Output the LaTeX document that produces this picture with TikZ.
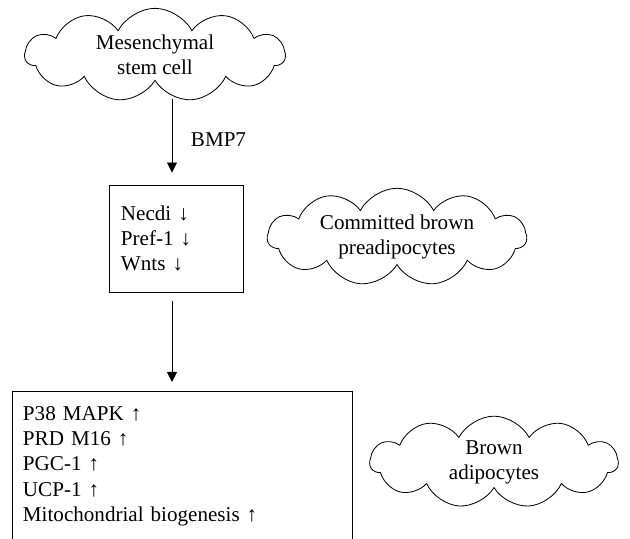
\documentclass[tikz,border=0pt]{standalone}
\usepackage{fontspec}
\setmainfont{Liberation Serif}
\usetikzlibrary{shapes.symbols,arrows.meta}

\begin{document}
\begin{tikzpicture}[x=0.03cm, y=-0.03cm,
    font=\fontsize{18}{21.5}\selectfont,
    stage/.style ={cloud, draw, line width=0.7pt, cloud puffs=11, cloud puff arc=125,
      cloud ignores aspect, align=center, inner sep=0pt},
    marker/.style ={rectangle, draw, line width=0.8pt, align=left, inner xsep=0.35cm},
    flow/.style ={line width=0.8pt, -{Triangle[length=0.3cm,width=0.3cm]}}]
   \useasboundingbox (0,0) rectangle (630,539);
   \coordinate (axis) at (172,0);
   \node[stage, minimum width=7.8cm, minimum height=2.8cm] (msc) at (155,55) {Mesenchymal\\stem cell};
   \node[stage, minimum width=7.77cm, minimum height=2.9cm] (cbp) at (397,237) {Committed brown\\preadipocytes};
   \node[stage, minimum width=7.44cm, minimum height=2.75cm] (bat) at (494,462) {Brown\\adipocytes};
   \node[marker, text width=3.33cm, minimum height=3.21cm] (early) at (176.5,238.5) {Necdi ↓\\Pref-1 ↓\\Wnts ↓};
   \node[marker, anchor=north, text width=9.54cm, inner xsep=0.33cm, inner ysep=0.45cm] (late) at (182,391)
     {P38 MAPK ↑\\PRD M16 ↑\\PGC-1 ↑\\UCP-1 ↑\\Mitochondrial biogenesis ↑\par\vspace*{3cm}};
   \node (bmp) at (218.5,140) {BMP7};
   \draw[flow, shorten <=0.55cm, shorten >=0.36cm] (msc.south -| axis) to (early.north -| axis);
   \draw[flow, shorten <=0.27cm, shorten >=0.27cm] (early.south -| axis) to (late.north -| axis);
 \end{tikzpicture}
\end{document}
